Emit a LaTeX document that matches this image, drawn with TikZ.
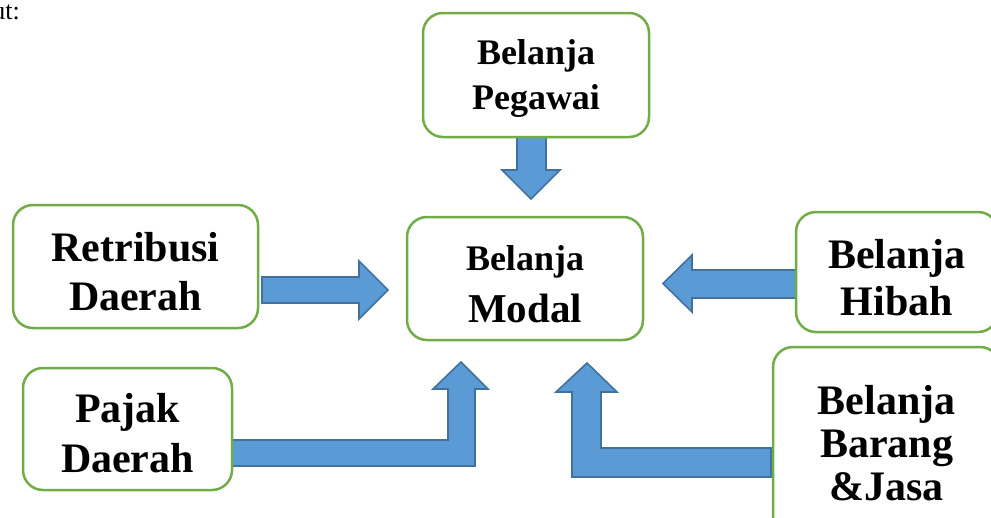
\documentclass[tikz,border=0pt]{standalone}
\usepackage{fontspec}
\setmainfont{Liberation Serif}
\definecolor{boxgreen}{RGB}{112,173,71}
\definecolor{arrowfill}{RGB}{91,155,213}
\definecolor{arrowline}{RGB}{65,113,156}
\tikzset{
    kotak/.style={draw=boxgreen, line width=2.5pt, fill=white, rounded corners=20pt,
                  inner sep=0pt, align=center},
    panah/.style={fill=arrowfill, draw=arrowline, line width=1.6pt, line join=miter}
}
\begin{document}
\begin{tikzpicture}[x=1pt, y=-1pt]

    \useasboundingbox (0,0) rectangle (991,517);

    % sisa teks di atas
    \node[anchor=base east, inner sep=0pt, font=\fontsize{26}{30}\selectfont] (sisa) at (20,19) {ut:};

    % panah lurus
    \draw[panah] (517,137) -- (517,170) -- (502,170) -- (531,199) -- (560,170)
        -- (546,170) -- (546,137) -- cycle;
    \draw[panah] (262,277) -- (359,277) -- (359,261) -- (388,290) -- (359,319)
        -- (359,303) -- (262,303) -- cycle;
    \draw[panah] (796,270) -- (692,270) -- (692,255) -- (663,283.5) -- (692,312)
        -- (692,298) -- (796,298) -- cycle;

    % panah belok
    \draw[panah] (232,440) -- (448,440) -- (448,389) -- (433,389) -- (461,362)
        -- (488,389) -- (475,389) -- (475,466) -- (232,466) -- cycle;
    \draw[panah] (771,448) -- (601,448) -- (601,392) -- (617,392) -- (587,363)
        -- (556,392) -- (572,392) -- (572,477) -- (771,477) -- cycle;

    % kotak
    \node[kotak, minimum width=226pt, minimum height=124pt, text height=76.6pt,
          font=\fontsize{36}{45}\selectfont\bfseries] (pegawai) at (536,75)
        {Belanja\\Pegawai};
    \node[kotak, minimum width=236pt, minimum height=123pt, text height=88.6pt,
          font=\fontsize{36}{52}\selectfont\bfseries] (modal) at (525,278.5)
        {Belanja\\\fontsize{41}{52}\selectfont Modal};
    \node[kotak, minimum width=245pt, minimum height=123pt, text height=87.7pt,
          font=\fontsize{42}{49}\selectfont\bfseries] (retribusi) at (135.5,266.5)
        {Retribusi\\Daerah};
    \node[kotak, minimum width=202pt, minimum height=120pt, text height=87.7pt,
          font=\fontsize{42}{47}\selectfont\bfseries] (hibah) at (897,272)
        {Belanja\\Hibah};
    \node[kotak, minimum width=209pt, minimum height=122pt, text height=86.7pt,
          font=\fontsize{42}{50}\selectfont\bfseries] (pajak) at (127.5,429)
        {Pajak\\Daerah};
    \node[kotak, minimum width=227pt, minimum height=193pt,
          font=\fontsize{42}{43}\selectfont\bfseries] (barang) at (886.5,443.5)
        {Belanja\\Barang\\\&Jasa};

\end{tikzpicture}
\end{document}
